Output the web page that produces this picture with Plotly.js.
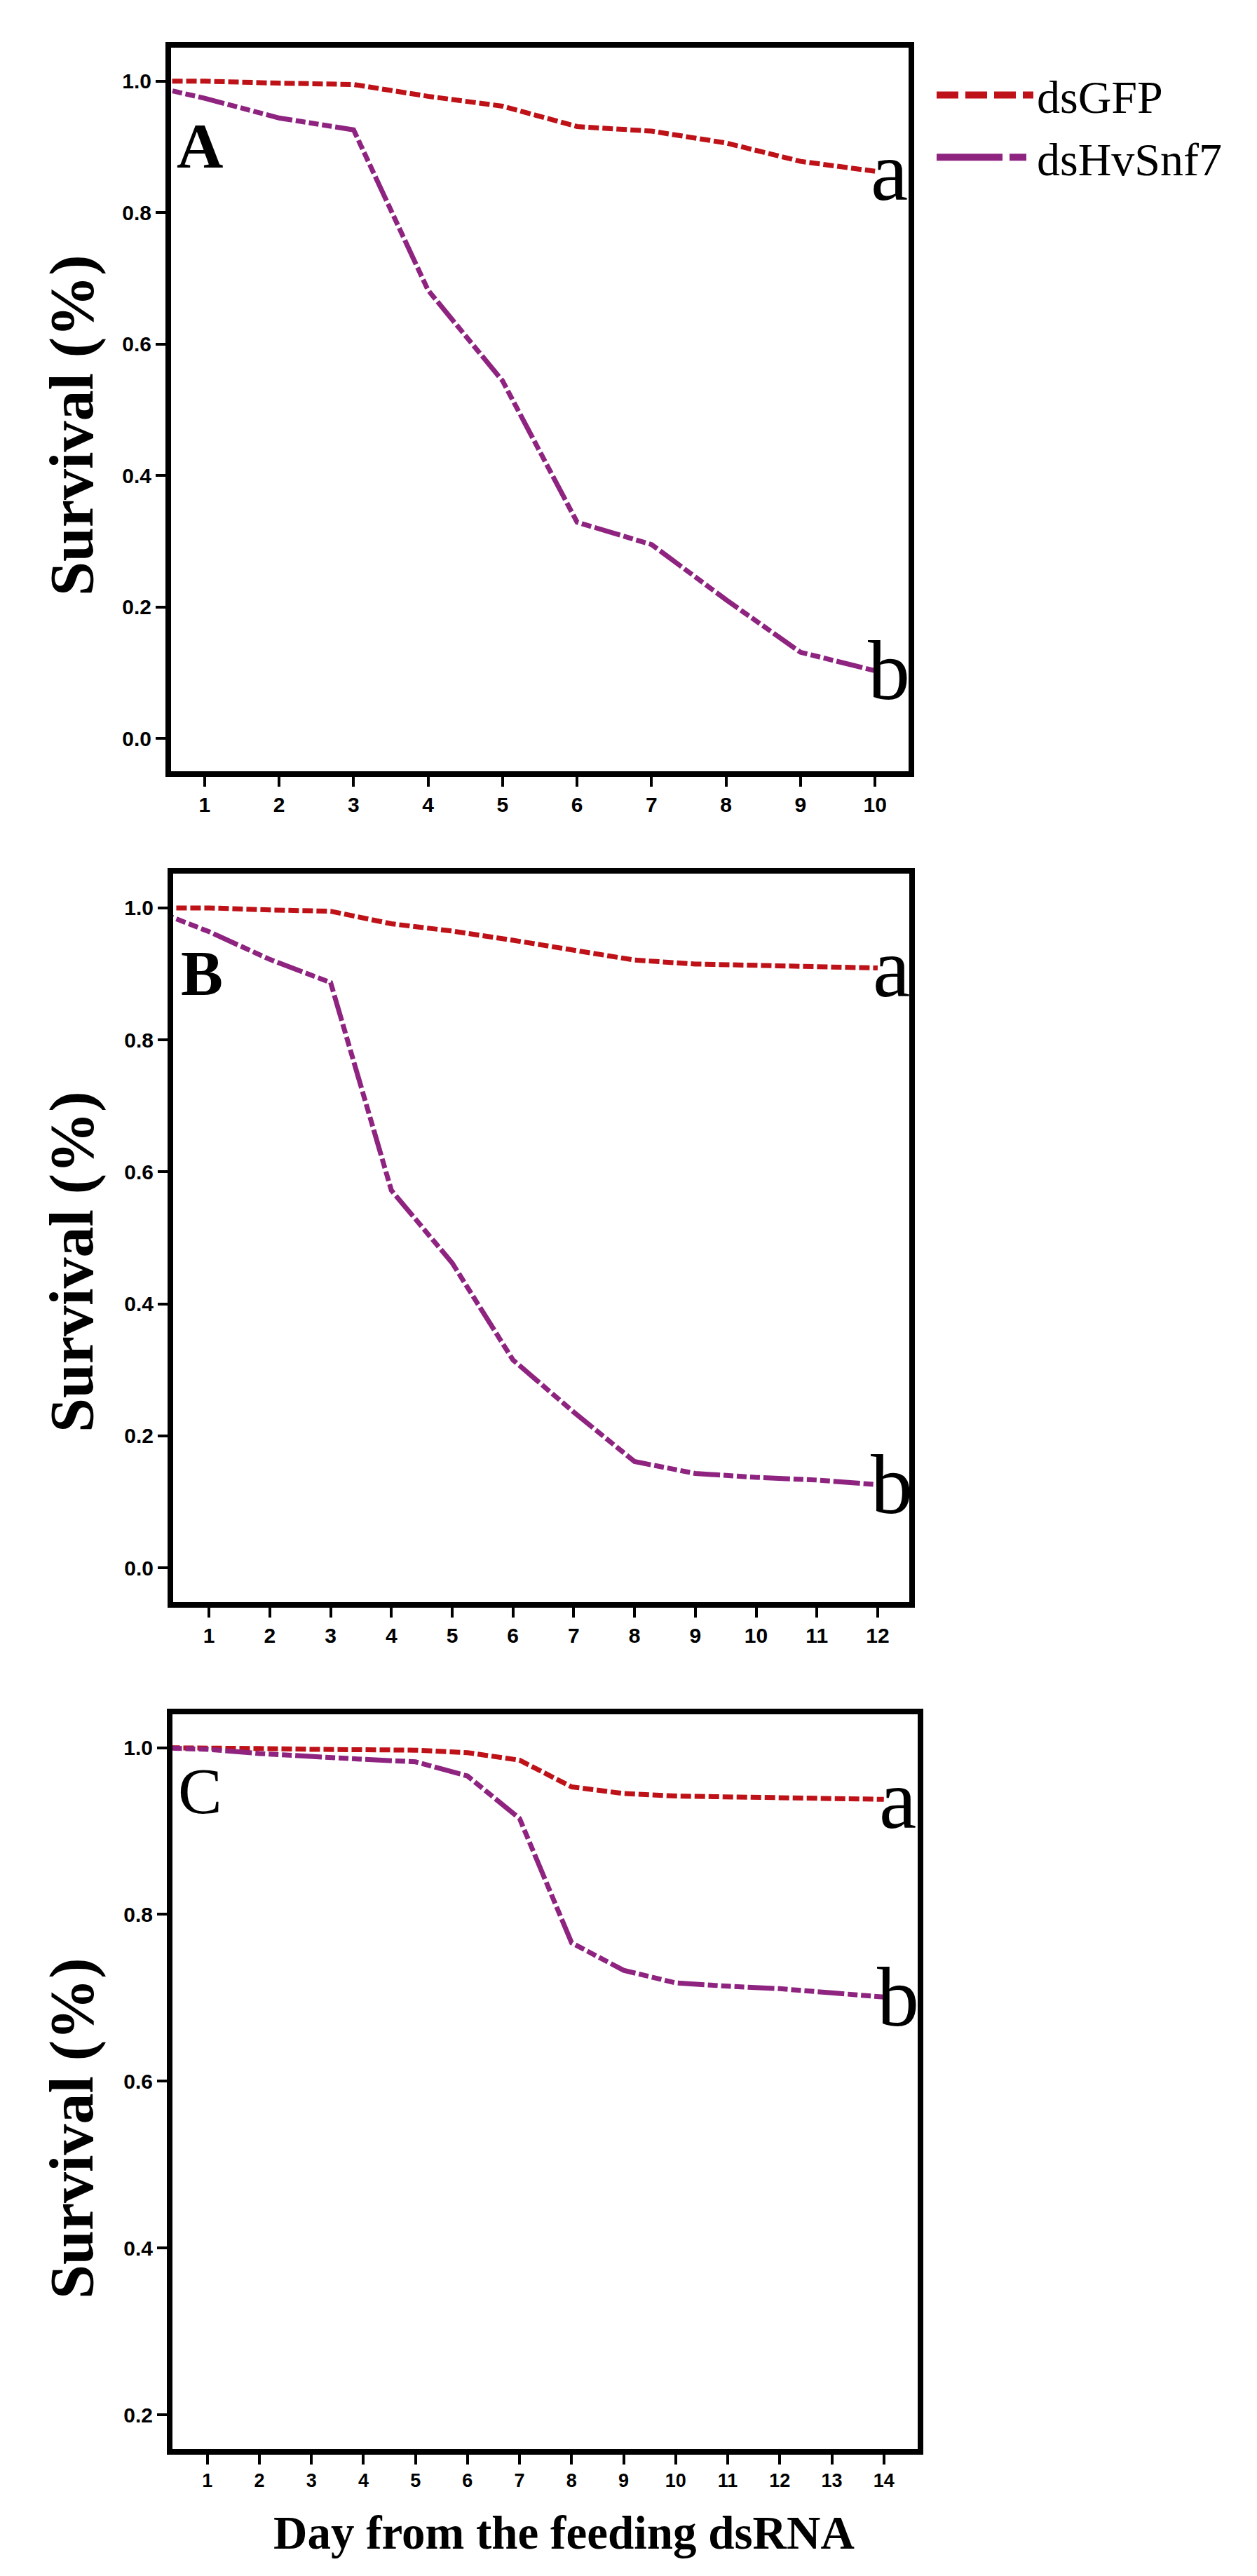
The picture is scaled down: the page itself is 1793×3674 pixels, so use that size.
<!DOCTYPE html>
<html>
<head>
<meta charset="utf-8">
<script src="https://cdn.plot.ly/plotly-3.0.1.min.js"></script>
<style>
  body { margin: 0; background: #fff; }
  #chart { width: 1793px; height: 3674px; }
</style>
</head>
<body>
<div id="chart"></div>
<script>
// survival data, day 0 = start of feeding
const daysA = [0, 1, 2, 3, 4, 5, 6, 7, 8, 9, 10];
const gfpA = [1.0, 1.0, 0.997, 0.995, 0.977, 0.962, 0.931, 0.924, 0.906, 0.878, 0.863];
const snfA = [1.0, 0.974, 0.944, 0.926, 0.682, 0.544, 0.329, 0.295, 0.211, 0.131, 0.103];

const daysB = [0, 1, 2, 3, 4, 5, 6, 7, 8, 9, 10, 11, 12];
const gfpB = [1.0, 1.0, 0.997, 0.995, 0.976, 0.965, 0.951, 0.936, 0.921, 0.915, 0.913, 0.911, 0.909];
const snfB = [1.0, 0.964, 0.922, 0.887, 0.572, 0.462, 0.315, 0.236, 0.161, 0.143, 0.137, 0.133, 0.126];

const daysC = [0, 1, 2, 3, 4, 5, 6, 7, 8, 9, 10, 11, 12, 13, 14];
const gfpC = [1.0, 1.0, 0.999, 0.998, 0.998, 0.997, 0.994, 0.985, 0.953, 0.945, 0.942, 0.941, 0.940, 0.939, 0.938];
const snfC = [1.0, 0.998, 0.993, 0.989, 0.986, 0.983, 0.966, 0.915, 0.766, 0.733, 0.718, 0.714, 0.711, 0.706, 0.701];

const seriesNames = ["dsGFP", "dsHvSnf7"];
const panelLetters = ["A", "B", "C"];
const groupLetters = ["a", "b"];
const yTitle = "Survival (%)";
const xTitle = "Day from the feeding dsRNA";

const W = 1793, H = 3674;
const RED = "#BE1218";
const PURPLE = "#8E2380";
const DASH_RED = "15px,5px";
const DASH_PURPLE = "38px,5px,14px,5px,14px,5px,14px,5px";
const SERIF = "Liberation Serif, Times New Roman, serif";
const SANS = "Liberation Sans, Arial, sans-serif";

// pixel helpers -> paper fractions
function px(x) { return x / W; }
function py(y) { return 1 - y / H; }

const panels = [
  { days: daysA, gfp: gfpA, snf: snfA, box: [244, 68, 1296, 1100], xr: [0.55, 10.45], yr: [-0.05, 1.051],
    yt: [0, 0.2, 0.4, 0.6, 0.8, 1.0], xfs: 30, titleY: 607, letter: [250, 208, true, 92] },
  { days: daysB, gfp: gfpB, snf: snfB, box: [247, 1246, 1297, 2285], xr: [0.41, 12.52], yr: [-0.052, 1.052],
    yt: [0, 0.2, 0.4, 0.6, 0.8, 1.0], xfs: 30, titleY: 1800, letter: [256, 1388, true, 90] },
  { days: daysC, gfp: gfpC, snf: snfC, box: [246, 2445, 1309, 3493], xr: [0.33, 14.65], yr: [0.159, 1.040],
    yt: [0.2, 0.4, 0.6, 0.8, 1.0], xfs: 27, titleY: 3036, letter: [252, 2554, false, 94] },
];

var data = [];
var layout = {
  width: W,
  height: H,
  margin: { l: 0, r: 0, t: 0, b: 0 },
  paper_bgcolor: "white",
  plot_bgcolor: "white",
  showlegend: true,
  legend: {
    x: px(1331), y: py(86), xanchor: "left", yanchor: "top",
    font: { family: SERIF, size: 66, color: "black" },
    itemwidth: 138,
    bgcolor: "rgba(0,0,0,0)",
  },
  annotations: [],
};

panels.forEach(function(p, i) {
  var n = i === 0 ? "" : String(i + 1);
  var xa = "x" + n, ya = "y" + n;
  data.push({
    type: "scatter", mode: "lines", x: p.days, y: p.gfp, xaxis: xa, yaxis: ya,
    name: seriesNames[0], showlegend: false,
    line: { color: RED, width: 7, dash: DASH_RED },
  });
  data.push({
    type: "scatter", mode: "lines", x: p.days, y: p.snf, xaxis: xa, yaxis: ya,
    name: seriesNames[1], showlegend: false,
    line: { color: PURPLE, width: 7, dash: DASH_PURPLE },
  });

  var axisCommon = {
    showline: true, mirror: true, linewidth: 8, linecolor: "black",
    ticks: "outside", ticklen: 14, tickwidth: 4, tickcolor: "black",
    showgrid: false, zeroline: false, fixedrange: true,
  };
  layout["xaxis" + n] = Object.assign({}, axisCommon, {
    domain: [px(p.box[0]), px(p.box[2])],
    range: p.xr, anchor: ya,
    tickmode: "array", tickvals: p.days.slice(1),
    tickfont: { family: SANS, size: p.xfs, color: "black", weight: "bold" },
  });
  layout["yaxis" + n] = Object.assign({}, axisCommon, {
    domain: [py(p.box[3]), py(p.box[1])],
    range: p.yr, anchor: xa,
    tickmode: "array", tickvals: p.yt, tickformat: ".1f",
    tickfont: { family: SANS, size: 30, color: "black", weight: "bold" },
  });

  // y title
  layout.annotations.push({
    xref: "paper", yref: "paper", x: px(102), y: py(p.titleY),
    xanchor: "center", yanchor: "middle", textangle: -90, showarrow: false,
    text: yTitle, font: { family: SERIF, size: 88, color: "black", weight: "bold" },
  });
  // panel letter
  layout.annotations.push({
    xref: "paper", yref: "paper", x: px(p.letter[0]), y: py(p.letter[1]),
    xanchor: "left", yanchor: "middle", showarrow: false,
    text: panelLetters[i],
    font: { family: SERIF, size: p.letter[3], color: "black", weight: p.letter[2] ? "bold" : "normal" },
  });
  // significance letters at the last day
  var last = p.days.length - 1;
  [p.gfp, p.snf].forEach(function(s, k) {
    layout.annotations.push({
      xref: xa, yref: ya, x: p.days[last], y: s[last],
      xanchor: "center", yanchor: "middle", xshift: 20, showarrow: false,
      text: groupLetters[k], font: { family: SERIF, size: 120, color: "black" },
    });
  });
});

// x title
layout.annotations.push({
  xref: "paper", yref: "paper", x: px(804), y: py(3612),
  xanchor: "center", yanchor: "middle", showarrow: false,
  text: xTitle, font: { family: SERIF, size: 67, color: "black", weight: "bold" },
});

// legend entries: panel A series on a hidden axis pair (out of range, so only the legend shows)
layout.xaxis4 = { domain: [0, 0.01], range: [100, 101], visible: false, fixedrange: true };
layout.yaxis4 = { domain: [0, 0.01], range: [100, 101], visible: false, fixedrange: true, anchor: "x4" };
data.push({
  type: "scatter", mode: "lines", x: daysA, y: gfpA, xaxis: "x4", yaxis: "y4",
  name: seriesNames[0], hoverinfo: "skip",
  line: { color: RED, width: 14, dash: "31px,10px" },
});
data.push({
  type: "scatter", mode: "lines", x: daysA, y: snfA, xaxis: "x4", yaxis: "y4",
  name: seriesNames[1], hoverinfo: "skip",
  line: { color: PURPLE, width: 14, dash: "94px,10px,24px,10px" },
});

Plotly.newPlot("chart", data, layout, { staticPlot: true });
</script>
</body>
</html>
